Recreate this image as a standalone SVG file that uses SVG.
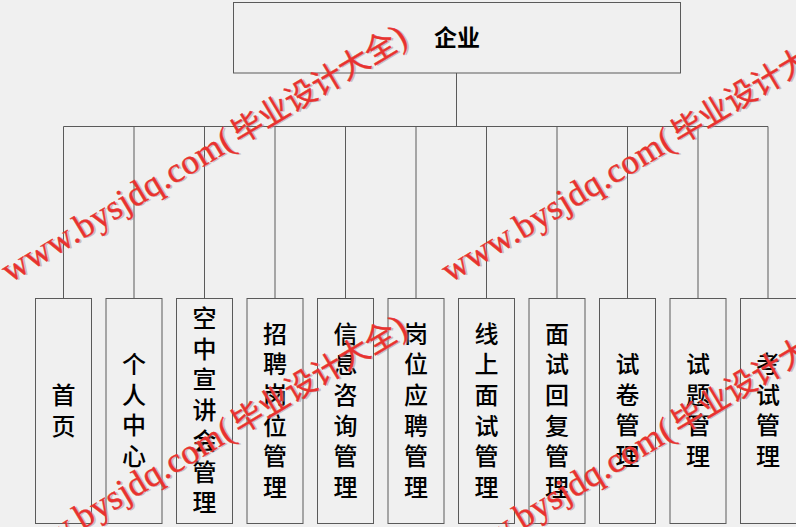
<svg xmlns="http://www.w3.org/2000/svg" xmlns:xlink="http://www.w3.org/1999/xlink" width="796" height="527" viewBox="0 0 796 527">
<style>
.bg{fill:#f0f0f0}
.box{fill:#f0f0f0;stroke:#5a5a5a;stroke-width:1}
.conn{fill:none;stroke:#5a5a5a;stroke-width:1}
.lbl{font-family:"Noto Sans CJK SC","Microsoft YaHei",sans-serif;font-size:24px;fill:#000;text-anchor:middle;font-weight:500}
.top{font-family:"Noto Sans CJK SC",sans-serif;font-size:23px;fill:#000;text-anchor:middle;font-weight:bold}
.lat{font-family:"Liberation Serif",serif;font-size:35px}
.cjk{font-family:"Noto Sans CJK SC",sans-serif;font-size:31px}
.wmr{fill:#e8322f;stroke:#e8322f;stroke-width:0.4}
.wms{fill:#9a8f8f;opacity:0.5}
</style>
<defs>
<g id="wmt">
<text class="lat" x="0" y="0" textLength="264" lengthAdjust="spacing">www.bysjdq.com(</text>
<text class="cjk" x="268" y="0">毕业设计大全<tspan class="lat" font-size="33px">)</tspan></text>
</g>
<g id="wm">
<g transform="rotate(-31)">
<use xlink:href="#wmt" class="wms" transform="translate(1.5,1.5)"/>
<use xlink:href="#wmt" class="wmr"/>
</g>
</g>
</defs>
<rect class="bg" x="0" y="0" width="796" height="527"/>
<g id="connectors">
<path class="conn" d="M456.5,73 V126.5 M63.5,126.5 H768 M63.5,126.5 V298.5 M134,126.5 V298.5 M204.5,126.5 V298.5 M275,126.5 V298.5 M345.5,126.5 V298.5 M416,126.5 V298.5 M486.5,126.5 V298.5 M557,126.5 V298.5 M627.5,126.5 V298.5 M698,126.5 V298.5 M768,126.5 V298.5"/>
</g>
<g id="n0"><rect class="box" x="233.5" y="2.5" width="447" height="70.5"/><text class="top" x="457" y="46">企业</text></g>
<g id="n1"><rect class="box" x="35.5" y="298.5" width="56" height="225"/>
<text class="lbl"><tspan x="63.5" y="404">首</tspan><tspan x="63.5" dy="30.7">页</tspan></text></g>
<g id="n2"><rect class="box" x="106" y="298.5" width="56" height="225"/>
<text class="lbl"><tspan x="134" y="373">个</tspan><tspan x="134" dy="30.7">人</tspan><tspan x="134" dy="30.7">中</tspan><tspan x="134" dy="30.7">心</tspan></text></g>
<g id="n3"><rect class="box" x="176.5" y="298.5" width="56" height="225"/>
<text class="lbl"><tspan x="204.5" y="327">空</tspan><tspan x="204.5" dy="30.7">中</tspan><tspan x="204.5" dy="30.7">宣</tspan><tspan x="204.5" dy="30.7">讲</tspan><tspan x="204.5" dy="30.7">会</tspan><tspan x="204.5" dy="30.7">管</tspan><tspan x="204.5" dy="30.7">理</tspan></text></g>
<g id="n4"><rect class="box" x="247" y="298.5" width="56" height="225"/>
<text class="lbl"><tspan x="275" y="342.5">招</tspan><tspan x="275" dy="30.7">聘</tspan><tspan x="275" dy="30.7">岗</tspan><tspan x="275" dy="30.7">位</tspan><tspan x="275" dy="30.7">管</tspan><tspan x="275" dy="30.7">理</tspan></text></g>
<g id="n5"><rect class="box" x="317.5" y="298.5" width="56" height="225"/>
<text class="lbl"><tspan x="345.5" y="342.5">信</tspan><tspan x="345.5" dy="30.7">息</tspan><tspan x="345.5" dy="30.7">咨</tspan><tspan x="345.5" dy="30.7">询</tspan><tspan x="345.5" dy="30.7">管</tspan><tspan x="345.5" dy="30.7">理</tspan></text></g>
<g id="n6"><rect class="box" x="388" y="298.5" width="56" height="225"/>
<text class="lbl"><tspan x="416" y="342.5">岗</tspan><tspan x="416" dy="30.7">位</tspan><tspan x="416" dy="30.7">应</tspan><tspan x="416" dy="30.7">聘</tspan><tspan x="416" dy="30.7">管</tspan><tspan x="416" dy="30.7">理</tspan></text></g>
<g id="n7"><rect class="box" x="458.5" y="298.5" width="56" height="225"/>
<text class="lbl"><tspan x="486.5" y="342.5">线</tspan><tspan x="486.5" dy="30.7">上</tspan><tspan x="486.5" dy="30.7">面</tspan><tspan x="486.5" dy="30.7">试</tspan><tspan x="486.5" dy="30.7">管</tspan><tspan x="486.5" dy="30.7">理</tspan></text></g>
<g id="n8"><rect class="box" x="529" y="298.5" width="56" height="225"/>
<text class="lbl"><tspan x="557" y="342.5">面</tspan><tspan x="557" dy="30.7">试</tspan><tspan x="557" dy="30.7">回</tspan><tspan x="557" dy="30.7">复</tspan><tspan x="557" dy="30.7">管</tspan><tspan x="557" dy="30.7">理</tspan></text></g>
<g id="n9"><rect class="box" x="599.5" y="298.5" width="56" height="225"/>
<text class="lbl"><tspan x="627.5" y="373">试</tspan><tspan x="627.5" dy="30.7">卷</tspan><tspan x="627.5" dy="30.7">管</tspan><tspan x="627.5" dy="30.7">理</tspan></text></g>
<g id="n10"><rect class="box" x="670" y="298.5" width="56" height="225"/>
<text class="lbl"><tspan x="698" y="373">试</tspan><tspan x="698" dy="30.7">题</tspan><tspan x="698" dy="30.7">管</tspan><tspan x="698" dy="30.7">理</tspan></text></g>
<g id="n11"><rect class="box" x="740.5" y="298.5" width="57" height="225"/>
<text class="lbl"><tspan x="768" y="373">考</tspan><tspan x="768" dy="30.7">试</tspan><tspan x="768" dy="30.7">管</tspan><tspan x="768" dy="30.7">理</tspan></text></g>
<g id="watermarks">
<use xlink:href="#wm" transform="translate(10,283)"/>
<use xlink:href="#wm" transform="translate(450,283)"/>
<use xlink:href="#wm" transform="translate(10,573)"/>
<use xlink:href="#wm" transform="translate(450,573)"/>
</g>
</svg>
